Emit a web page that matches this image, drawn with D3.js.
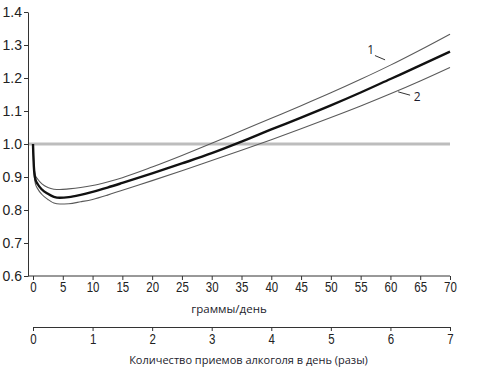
<!DOCTYPE html>
<html><head><meta charset="utf-8">
<script src="https://cdn.jsdelivr.net/npm/d3@7"></script>
<style>
html,body{margin:0;padding:0;background:#fff;}
svg{display:block;}
.num{font-family:"Liberation Sans",Arial,sans-serif;}
.ynum{font-family:"Liberation Sans",Arial,sans-serif;}
.ttl{font-family:"Open Sans","Noto Sans",sans-serif;}
</style></head>
<body>
<script>
// ---- data ----
const doses = [0, 0.15, 0.4, 0.8, 1.5, 2.5, 3.5, 4.5, 6, 8, 10, 12.5, 15, 20, 25, 30, 35, 40, 45, 50, 55, 60, 65, 70];
const riskMid   = [1.0, 0.93, 0.893, 0.878, 0.862, 0.849, 0.840, 0.837, 0.839, 0.846, 0.855, 0.868, 0.882, 0.911, 0.941, 0.972, 1.007, 1.044, 1.080, 1.117, 1.156, 1.197, 1.238, 1.280];
const riskUpper = [1.0, 0.94, 0.905, 0.893, 0.879, 0.868, 0.863, 0.862, 0.864, 0.868, 0.874, 0.885, 0.898, 0.930, 0.965, 1.002, 1.040, 1.078, 1.116, 1.155, 1.196, 1.239, 1.285, 1.333];
const riskLower = [1.0, 0.92, 0.88, 0.864, 0.847, 0.832, 0.821, 0.818, 0.819, 0.825, 0.832, 0.845, 0.860, 0.889, 0.919, 0.950, 0.981, 1.013, 1.046, 1.080, 1.115, 1.152, 1.191, 1.232];
const yTicks = [0.6, 0.7, 0.8, 0.9, 1.0, 1.1, 1.2, 1.3, 1.4];
const gramTicks = [0, 5, 10, 15, 20, 25, 30, 35, 40, 45, 50, 55, 60, 65, 70];
const drinkTicks = [0, 1, 2, 3, 4, 5, 6, 7];
const refLevel = 1.0;
const curveLabels = ["1", "2"];
const labelPos = [[56.7, 1.285], [64.5, 1.145]];
const leaders = [[[57.4, 1.268], [59.1, 1.255]], [[61.3, 1.158], [63.3, 1.148]]];
const xTitle1 = "граммы/день";
const xTitle2 = "Количество приемов алкоголя в день (разы)";

// ---- chart ----
const W = 498, H = 380;
const svg = d3.select("body").append("svg").attr("width", W).attr("height", H);
const x = d3.scaleLinear().domain([0, 70]).range([33, 450]);
const x2 = d3.scaleLinear().domain([0, 7]).range([33, 450]);
const y = d3.scaleLinear().domain([0.6, 1.4]).range([276, 12]);
const axisCol = "#333";

// reference line
svg.append("line").attr("x1", 28).attr("x2", x(70)).attr("y1", y(refLevel)).attr("y2", y(refLevel))
  .attr("stroke", "#bdbdbd").attr("stroke-width", 3);

// y axis
const gy = svg.append("g").attr("transform", "translate(28,0)")
  .call(d3.axisLeft(y).tickValues(yTicks).tickFormat(d3.format(".1f")).tickSize(4).tickSizeOuter(0));
gy.select(".domain").attr("stroke", axisCol);
gy.selectAll(".tick line").attr("stroke", axisCol);
gy.selectAll(".tick text").attr("class", "ynum").attr("font-size", 14).attr("fill", "#222").attr("x", -6);

// x axis 1
const gx = svg.append("g").attr("transform", "translate(0,276)")
  .call(d3.axisBottom(x).tickValues(gramTicks).tickFormat(d3.format("d")).tickSize(4).tickSizeOuter(0));
gx.select(".domain").attr("d", `M28,0H${x(70)}`).attr("stroke", axisCol);
gx.selectAll(".tick line").attr("stroke", axisCol);
gx.selectAll(".tick text").attr("class", "num").attr("font-size", 14).attr("fill", "#222").attr("y", 6)
  .attr("transform", "scale(0.82,1)");

// x axis 2
const gx2 = svg.append("g").attr("transform", "translate(0,327)")
  .call(d3.axisBottom(x2).tickValues(drinkTicks).tickFormat(d3.format("d")).tickSize(4).tickSizeOuter(0));
gx2.select(".domain").attr("stroke", axisCol);
gx2.selectAll(".tick line").attr("stroke", axisCol);
gx2.selectAll(".tick text").attr("class", "num").attr("font-size", 14).attr("fill", "#222").attr("y", 7)
  .attr("transform", "scale(0.82,1)");

// titles
svg.append("text").attr("class", "ttl").attr("x", 229).attr("y", 313).attr("text-anchor", "middle")
  .attr("font-size", 11.5).attr("fill", "#1c1c2c").text(xTitle1);
svg.append("text").attr("class", "ttl").attr("x", 248.5).attr("y", 364).attr("text-anchor", "middle")
  .attr("font-size", 11).attr("fill", "#1c1c2c").text(xTitle2);

// curves
const line = d3.line().x(d => x(d[0])).y(d => y(d[1])).curve(d3.curveMonotoneX);
const mk = arr => doses.map((d, i) => [d, arr[i]]);
svg.append("path").attr("d", line(mk(riskUpper))).attr("fill", "none").attr("stroke", "#5a5a5a").attr("stroke-width", 1.1);
svg.append("path").attr("d", line(mk(riskLower))).attr("fill", "none").attr("stroke", "#5a5a5a").attr("stroke-width", 1.1);
svg.append("path").attr("d", line(mk(riskMid))).attr("fill", "none").attr("stroke", "#111").attr("stroke-width", 2.4);

// labels
curveLabels.forEach((t, i) => {
  svg.append("text").attr("class", "ttl").attr("x", x(labelPos[i][0])).attr("y", y(labelPos[i][1]))
    .attr("text-anchor", "middle").attr("dominant-baseline", "central")
    .attr("font-size", 12).attr("fill", "#1c1c2c").text(t);
  svg.append("line").attr("x1", x(leaders[i][0][0])).attr("y1", y(leaders[i][0][1]))
    .attr("x2", x(leaders[i][1][0])).attr("y2", y(leaders[i][1][1]))
    .attr("stroke", "#333").attr("stroke-width", 1);
});
</script>
</body></html>
